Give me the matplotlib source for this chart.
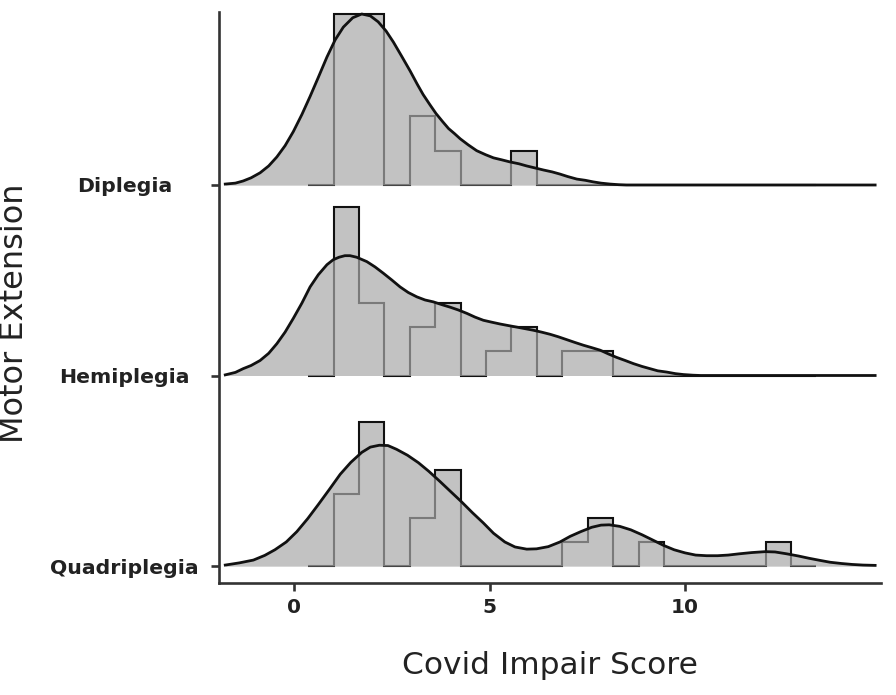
import numpy as np
import matplotlib
matplotlib.use("Agg")
import matplotlib.pyplot as plt

# ---------------- data ----------------
groups = ["Quadriplegia", "Hemiplegia", "Diplegia"]   # bottom to top
bin_start = 0.36
bin_width = 0.65
hist_counts = {
    "Diplegia":     [0, 5, 5, 0, 2, 1, 0, 0, 1, 0, 0, 0, 0, 0, 0, 0, 0, 0, 0, 0],
    "Hemiplegia":   [0, 7, 3, 0, 2, 3, 0, 1, 2, 0, 1, 1, 0, 0, 0, 0, 0, 0, 0, 0],
    "Quadriplegia": [0, 3, 6, 0, 2, 4, 0, 0, 0, 0, 1, 2, 0, 1, 0, 0, 0, 0, 1, 0],
}

dip_x = [-1.76, -1.5, -1.3, -1.1, -0.87, -0.65, -0.44, -0.23, -0.02, 0.2,
         0.41, 0.62, 0.84, 1.05, 1.26, 1.5, 1.73, 1.95, 2.15, 2.35,
         2.54, 2.75, 2.97, 3.15, 3.3, 3.47, 3.63, 3.8, 3.95, 4.1,
         4.25, 4.45, 4.67, 4.9, 5.1, 5.3, 5.52, 5.75, 5.95, 6.15,
         6.38, 6.6, 6.8, 7.0, 7.23, 7.45, 7.65, 7.85, 8.08, 8.3,
         8.5, 14.86]
dip_d = [0.003, 0.006, 0.013, 0.023, 0.039, 0.061, 0.090, 0.126, 0.171, 0.226,
         0.284, 0.345, 0.410, 0.465, 0.506, 0.536, 0.548, 0.542, 0.523, 0.494,
         0.458, 0.413, 0.365, 0.323, 0.290, 0.258, 0.229, 0.203, 0.181, 0.165,
         0.148, 0.129, 0.110, 0.097, 0.087, 0.081, 0.074, 0.068, 0.061, 0.055,
         0.048, 0.042, 0.035, 0.027, 0.019, 0.015, 0.010, 0.006, 0.003, 0.001,
         0.0, 0.0]

hem_x = [-1.76, -1.5, -1.3, -1.1, -0.87, -0.65, -0.44, -0.23, -0.02, 0.2,
         0.41, 0.62, 0.84, 1.0, 1.15, 1.3, 1.43, 1.6, 1.86, 2.07,
         2.28, 2.5, 2.71, 2.92, 3.14, 3.35, 3.56, 3.78, 3.99, 4.2,
         4.42, 4.63, 4.84, 5.05, 5.27, 5.48, 5.7, 5.91, 6.12, 6.33,
         6.55, 6.76, 6.97, 7.18, 7.4, 7.62, 7.83, 8.04, 8.25, 8.47,
         8.68, 8.9, 9.1, 9.3, 9.53, 9.75, 9.96, 10.2, 10.4, 14.86]
hem_d = [0.002, 0.010, 0.022, 0.032, 0.048, 0.071, 0.102, 0.139, 0.183, 0.232,
         0.284, 0.323, 0.355, 0.371, 0.379, 0.384, 0.384, 0.379, 0.365, 0.348,
         0.328, 0.306, 0.284, 0.266, 0.252, 0.242, 0.236, 0.227, 0.219, 0.210,
         0.199, 0.187, 0.177, 0.171, 0.165, 0.160, 0.155, 0.150, 0.145, 0.139,
         0.132, 0.124, 0.115, 0.106, 0.097, 0.089, 0.081, 0.069, 0.058, 0.048,
         0.038, 0.029, 0.022, 0.015, 0.011, 0.006, 0.003, 0.001, 0.0, 0.0]

quad_x = [-1.76, -1.4, -1.04, -0.75, -0.49, -0.2, 0.07, 0.35, 0.62, 0.9,
          1.18, 1.45, 1.73, 1.95, 2.18, 2.4, 2.62, 2.9, 3.18, 3.45,
          3.73, 4.0, 4.28, 4.56, 4.84, 5.1, 5.39, 5.65, 5.95, 6.2,
          6.5, 6.8, 7.06, 7.33, 7.61, 7.85, 8.06, 8.33, 8.61, 8.9,
          9.16, 9.45, 9.72, 10.0, 10.27, 10.55, 10.83, 11.1, 11.38, 11.7,
          12.05, 12.3, 12.6, 12.9, 13.16, 13.45, 13.71, 14.0, 14.27, 14.55,
          14.86]
quad_d = [0.003, 0.010, 0.019, 0.034, 0.052, 0.077, 0.110, 0.152, 0.197, 0.245,
          0.294, 0.332, 0.364, 0.381, 0.387, 0.386, 0.374, 0.355, 0.331, 0.303,
          0.271, 0.239, 0.206, 0.171, 0.138, 0.105, 0.077, 0.061, 0.054, 0.055,
          0.062, 0.077, 0.095, 0.110, 0.124, 0.131, 0.132, 0.127, 0.116, 0.100,
          0.084, 0.066, 0.052, 0.042, 0.035, 0.033, 0.033, 0.035, 0.039, 0.043,
          0.046, 0.045, 0.039, 0.032, 0.025, 0.018, 0.012, 0.008, 0.005, 0.003,
          0.002]

density_x = {"Diplegia": dip_x, "Hemiplegia": hem_x, "Quadriplegia": quad_x}
density_y = {"Diplegia": dip_d, "Hemiplegia": hem_d, "Quadriplegia": quad_d}

x_ticks = [0, 5, 10]
x_label = "Covid Impair Score"
y_label = "Motor Extension"

# ---------------- figure ----------------
W, H = 896, 695
fig = plt.figure(figsize=(W / 100, H / 100), dpi=100)
ax = fig.add_axes([219 / W, 1 - 583 / H, (881 - 219) / W, (583 - 12) / H])

FILL = "#c2c2c2"
scale = 0.9
nbins = len(hist_counts["Diplegia"])
edges = bin_start + bin_width * np.arange(nbins + 1)

hist_dens = {g: np.array(c, float) / (np.sum(c) * bin_width) for g, c in hist_counts.items()}
hmax = max(v.max() for v in hist_dens.values())
k = scale / hmax

for i, g in enumerate(groups):
    base = i + 1
    dx = np.array(density_x[g])
    dy = base + k * np.array(density_y[g])
    hy = base + k * hist_dens[g]
    # density base fill
    ax.fill_between(dx, base, dy, color=FILL, lw=0, zorder=1)
    # histogram fill + outline
    ax.stairs(hy, edges, baseline=base, fill=True, color=FILL, lw=0, zorder=2)
    ax.stairs(hy, edges, baseline=base, fill=False, color="#111111", lw=1.5, zorder=3)
    # translucent density fill over the histogram outline
    ax.fill_between(dx, base, dy, color=FILL, alpha=0.6, lw=0, zorder=4)
    ax.plot(dx, dy, color="#111111", lw=2.0, zorder=5, solid_joinstyle="round")

ax.set_xlim(-1.92, 15.01)
ax.set_ylim(1 - 17 / 190.5, 1 + 554 / 190.5)

for s in ["top", "right"]:
    ax.spines[s].set_visible(False)
for s in ["left", "bottom"]:
    ax.spines[s].set_linewidth(1.9)
    ax.spines[s].set_color("#333333")

ax.set_xticks(x_ticks)
ax.set_xticklabels([str(t) for t in x_ticks], fontsize=14.5, fontweight="bold", color="#222222")
ax.set_yticks([1, 2, 3])
ax.set_yticklabels(groups, fontsize=14.7, fontweight="bold", color="#222222", ha="center")
ax.tick_params(axis="both", length=6, width=1.9, color="#333333")
ax.tick_params(axis="x", pad=5)
ax.tick_params(axis="y", pad=62)

fig.text(550 / W, 1 - 665 / H, x_label, ha="center", va="center", fontsize=22.5, color="#222222")
fig.text(15 / W, 1 - 313 / H, y_label, ha="center", va="center", rotation=90,
         fontsize=23, color="#222222")

fig.savefig("out.png", dpi=100)
